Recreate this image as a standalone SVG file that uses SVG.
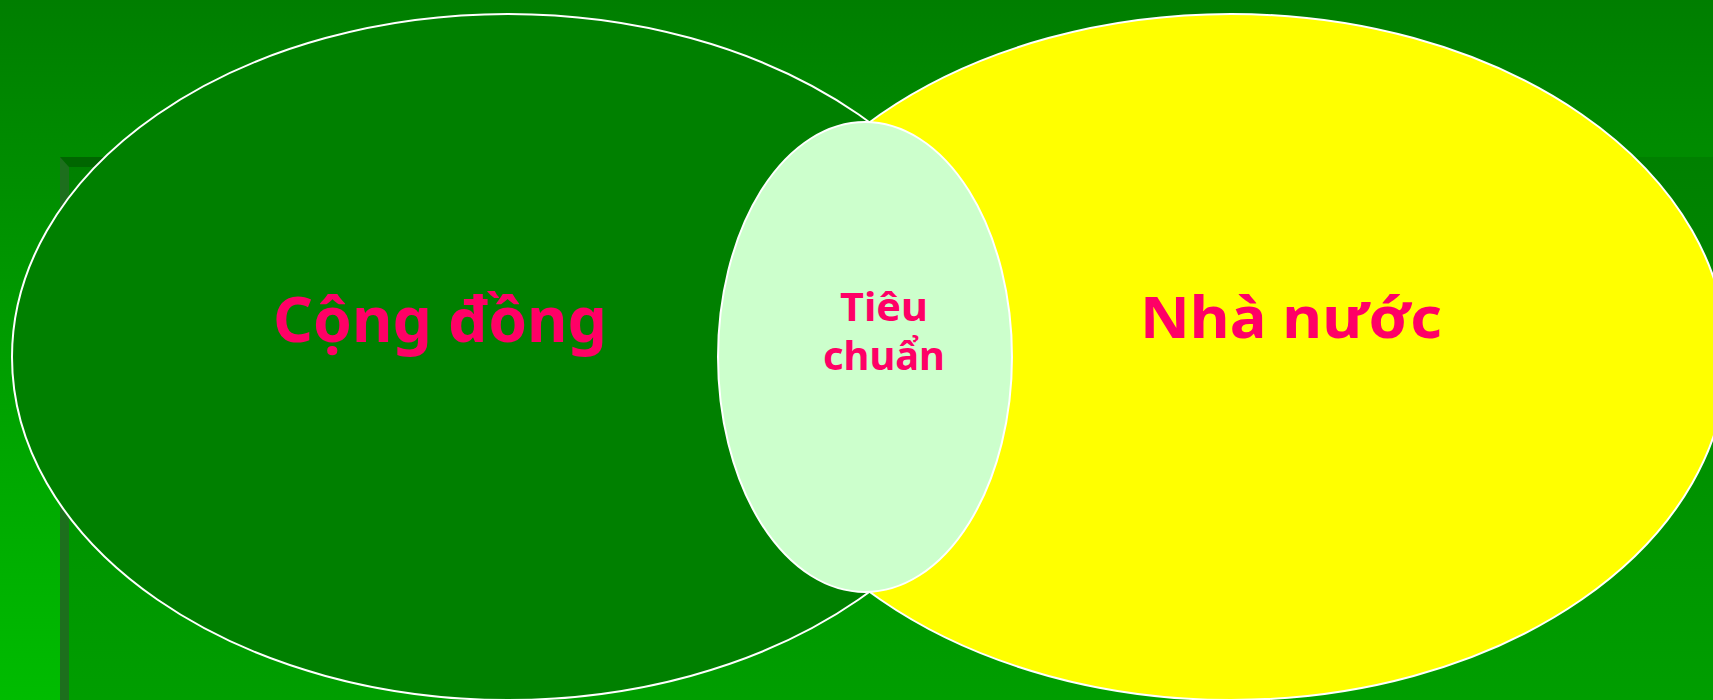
<svg xmlns="http://www.w3.org/2000/svg" width="1713" height="700" viewBox="0 0 1713 700">
  <defs>
    <linearGradient id="bg" x1="0" y1="0" x2="0" y2="1">
      <stop offset="0" stop-color="#007E00"/>
      <stop offset="1" stop-color="#00BC00"/>
    </linearGradient>
    <linearGradient id="panel" x1="0" y1="0" x2="0" y2="1">
      <stop offset="0" stop-color="#008000"/>
      <stop offset="1" stop-color="#009E00"/>
    </linearGradient>
  </defs>
  <style>
    .ell { stroke: #FFFFFF; stroke-width: 2; }
    .lbl { font-family: "Noto Sans", "DejaVu Sans", sans-serif; font-weight: bold; fill: #FF0066; text-anchor: middle; }
  </style>
  <rect x="0" y="0" width="1713" height="700" fill="url(#bg)"/>
  <rect x="60" y="157" width="1653" height="543" fill="url(#panel)"/>
  <rect x="60" y="157" width="900" height="10" fill="#006600"/>
  <polygon points="60,157 69,167 69,700 60,700" fill="#1D6F1D"/>
  <g id="cong-dong">
    <ellipse class="ell" cx="508" cy="357" rx="496" ry="343" fill="#008000"/>
    <text class="lbl" x="440" y="342" font-size="62" textLength="334" lengthAdjust="spacingAndGlyphs">Cộng đồng</text>
  </g>
  <g id="nha-nuoc">
    <ellipse class="ell" cx="1231" cy="357" rx="496" ry="343" fill="#FFFF00"/>
    <text class="lbl" x="1291" y="338" font-size="58" textLength="302" lengthAdjust="spacingAndGlyphs">Nhà nước</text>
  </g>
  <g id="tieu-chuan">
    <ellipse class="ell" cx="865" cy="357" rx="147" ry="235" fill="#CCFFCC"/>
    <text class="lbl" font-size="40"><tspan x="884" y="321" textLength="88" lengthAdjust="spacingAndGlyphs">Tiêu</tspan><tspan x="884" y="370" textLength="122" lengthAdjust="spacingAndGlyphs">chuẩn</tspan></text>
  </g>
  <g id="connectors"/>
</svg>
